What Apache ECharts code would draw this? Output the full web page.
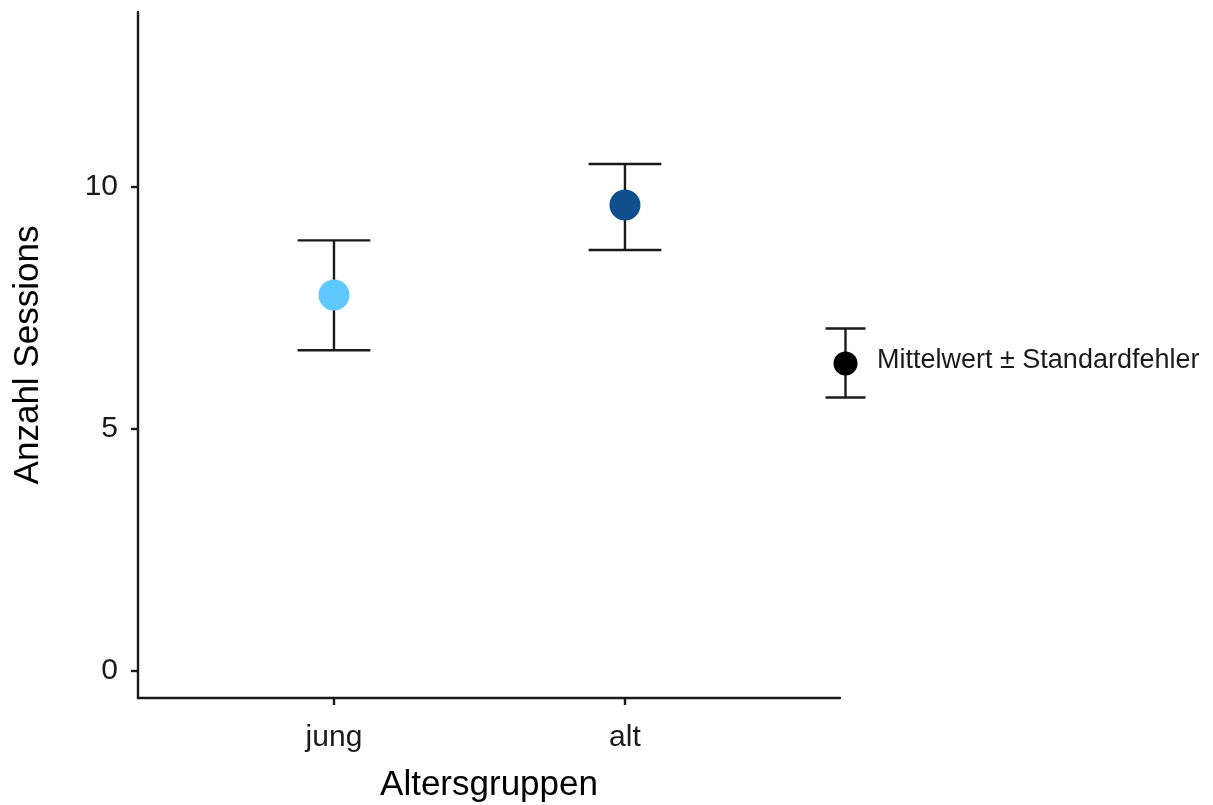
<!DOCTYPE html>
<html>
<head>
<meta charset="utf-8">
<style>
html,body{margin:0;padding:0;background:#fff;}
#chart{width:1213px;height:805px;}
</style>
<script src="https://cdn.jsdelivr.net/npm/echarts@6/dist/echarts.min.js"></script>
</head>
<body>
<div id="chart"></div>
<script>
// ---- data ----
const categories = ['jung', 'alt'];
const meanValues = [7.77, 9.63];
const lowerValues = [6.63, 8.70];
const upperValues = [8.90, 10.48];
const pointColors = ['#5EC8FF', '#0F4F8E'];
const yTickValues = [0, 5, 10];
const legendLabel = 'Mittelwert \u00B1 Standardfehler';
const xTitle = 'Altersgruppen';
const yTitle = 'Anzahl Sessions';

const FONT = '"Liberation Sans", Arial, Helvetica, sans-serif';
const capHalf = 0.125;

const chart = echarts.init(document.getElementById('chart'), null, {renderer: 'canvas'});

const errData = categories.map((c, i) => [i + 1, lowerValues[i], upperValues[i]]);
const pointData = categories.map((c, i) => ({value: [i + 1, meanValues[i]], itemStyle: {color: pointColors[i], opacity: 1}}));

const lineStyle = {stroke: '#1a1a1a', lineWidth: 2.4};

const option = {
  animation: false,
  backgroundColor: '#fff',
  grid: {left: 138, right: 373, top: 12, bottom: 107, containLabel: false, outerBoundsMode: 'none'},
  xAxis: {
    type: 'value',
    min: 0.3265,
    max: 2.739,
    name: xTitle,
    nameLocation: 'middle',
    nameGap: 70,
    nameTextStyle: {fontFamily: FONT, fontSize: 35, color: '#000'},
    axisLine: {show: true, onZero: false, lineStyle: {color: '#1a1a1a', width: 2.4}},
    axisTick: {show: true, customValues: categories.map((c, i) => i + 1), length: 7, lineStyle: {color: '#1a1a1a', width: 2.4}},
    axisLabel: {
      customValues: categories.map((c, i) => i + 1),
      formatter: v => categories[Math.round(v) - 1] || '',
      fontFamily: FONT, fontSize: 30, color: '#1a1a1a', margin: 25
    },
    splitLine: {show: false}
  },
  yAxis: {
    type: 'value',
    min: -0.558,
    max: 13.62,
    name: yTitle,
    nameLocation: 'middle',
    nameGap: 92,
    nameTextStyle: {fontFamily: FONT, fontSize: 35, color: '#000'},
    axisLine: {show: true, onZero: false, lineStyle: {color: '#1a1a1a', width: 2.4}},
    axisTick: {show: true, customValues: yTickValues, length: 7, lineStyle: {color: '#1a1a1a', width: 2.4}},
    axisLabel: {customValues: yTickValues, fontFamily: FONT, fontSize: 30, color: '#1a1a1a', margin: 20},
    splitLine: {show: false}
  },
  series: [
    {
      type: 'custom',
      data: errData,
      z: 2,
      renderItem: function (params, api) {
        const x = api.value(0), lo = api.value(1), hi = api.value(2);
        const top = api.coord([x, hi]);
        const bot = api.coord([x, lo]);
        const tl = api.coord([x - capHalf, hi]);
        const tr = api.coord([x + capHalf, hi]);
        const bl = api.coord([x - capHalf, lo]);
        const br = api.coord([x + capHalf, lo]);
        return {
          type: 'group',
          children: [
            {type: 'line', shape: {x1: top[0], y1: top[1], x2: bot[0], y2: bot[1]}, style: lineStyle},
            {type: 'line', shape: {x1: tl[0], y1: tl[1], x2: tr[0], y2: tr[1]}, style: lineStyle},
            {type: 'line', shape: {x1: bl[0], y1: bl[1], x2: br[0], y2: br[1]}, style: lineStyle}
          ]
        };
      }
    },
    {
      type: 'scatter',
      data: pointData,
      symbol: 'circle',
      symbolSize: 31,
      z: 3
    }
  ],
  graphic: [
    {
      type: 'group',
      left: 823,
      top: 326,
      children: [
        {type: 'line', shape: {x1: 20, y1: 0, x2: 20, y2: 69}, style: lineStyle},
        {type: 'line', shape: {x1: 0, y1: 0, x2: 40, y2: 0}, style: lineStyle},
        {type: 'line', shape: {x1: 0, y1: 69, x2: 40, y2: 69}, style: lineStyle},
        {type: 'circle', shape: {cx: 20, cy: 35, r: 12}, style: {fill: '#000'}}
      ]
    },
    {
      type: 'text',
      left: 877,
      top: 347,
      style: {text: legendLabel, font: '27px ' + FONT, fill: '#1a1a1a'}
    }
  ]
};
chart.setOption(option);
</script>
</body>
</html>
